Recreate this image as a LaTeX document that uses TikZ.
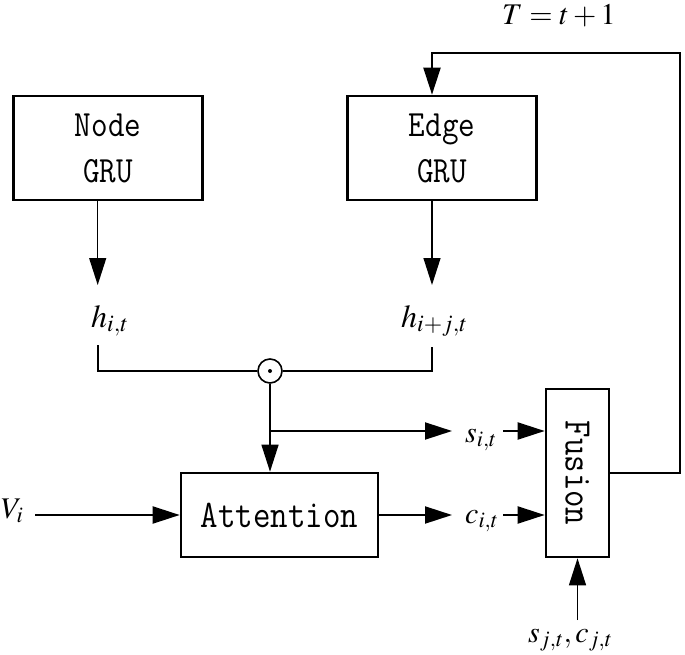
\documentclass[tikz,border=0pt]{standalone}
\usepackage{mathptmx}
\usepackage{graphicx}
\usetikzlibrary{arrows.meta}
\tikzset{
  blk/.style={draw, line width=2.6pt, inner sep=0pt},
  conn/.style={line width=2pt},
  thinconn/.style={line width=1.3pt},
  tip/.style={-{Triangle[length=27pt,width=17pt]}},
  lbl/.style={inner sep=0pt, anchor=base west, font=\fontsize{30}{36}\selectfont},
  hlbl/.style={lbl, font=\fontsize{32}{38}\selectfont},
  gru/.style={blk, minimum width=189pt, minimum height=104pt, align=center,
    font=\fontsize{37}{46}\selectfont\ttfamily},
  monotxt/.style={font=\fontsize{39}{45}\selectfont\ttfamily},
}
\newcommand{\cnd}[1]{\scalebox{0.87}[1]{#1}}
\begin{document}
\begin{tikzpicture}[x=1pt,y=-1pt]
\useasboundingbox (0,0) rectangle (685,655);
% boxes
\node[gru] (nodegru) at (108,148) {\cnd{Node}\\\cnd{GRU}};
\node[gru] (edgegru) at (442,148) {\cnd{Edge}\\\cnd{GRU}};
\node[blk, monotxt, minimum width=197pt, minimum height=84pt] (attn) at (279.5,515) {\cnd{Attention}};
\node[blk, minimum width=63pt, minimum height=168pt] (fusion) at (577.5,473) {};
\node[monotxt, inner sep=0pt, rotate=-90] (fusiontxt) at (fusion.center) {\cnd{Fusion}};
% labels
\node[hlbl] (hit) at (91,327) {$h_{i,t}$};
\node[hlbl] (hijt) at (401,327) {$h_{i+j,t}$};
\node[lbl] (sit) at (465,442) {$s_{i,t}$};
\node[lbl] (cit) at (465,523) {$c_{i,t}$};
\node[lbl] (vi) at (1,518) {$V_i$};
\node[lbl] (sjcj) at (528,642) {$s_{j,t},c_{j,t}$};
\node[lbl] (tt) at (502,25) {$T=t+1$};
% odot
\node[circle, draw, line width=1.6pt, minimum size=24pt, inner sep=0pt] (odot) at (270,371) {};
\fill (odot.center) circle (2pt);
% coordinates
\coordinate (hA) at (97.7,285);
\coordinate (hB) at (432,285);
\coordinate (hl) at (97.7,345);
\coordinate (hr) at (432,347);
\coordinate (br) at (270,431);
\coordinate (sA) at (452,431);
\coordinate (s2) at (503,431);
\coordinate (cA) at (452,515);
\coordinate (c2) at (503,515);
\coordinate (vA) at (35,515);
\coordinate (sj) at (577.5,620);
\coordinate (fbR) at (680,53);
\coordinate (fbL) at (432,53);
% connectors
\draw[thinconn, tip] (nodegru.south -| hA) -- (hA);
\draw[thinconn, tip] (edgegru.south -| hB) -- (hB);
\draw[conn] (hl) |- (odot.west);
\draw[conn] (hr) |- (odot.east);
\draw[thinconn, tip] (odot.south) -- (odot.south |- attn.north);
\draw[conn, tip] (br) -- (sA);
\draw[conn, tip] (s2) -- (s2 -| fusion.west);
\draw[conn, tip] (vA) -- (attn.west);
\draw[conn, tip] (attn.east) -- (cA);
\draw[conn, tip] (c2) -- (c2 -| fusion.west);
\draw[thinconn, tip] (sj) -- (sj |- fusion.south);
\draw[conn, tip] (fusion.east) -- (fbR |- fusion.east) -- (fbR) -- (fbL) -- (fbL |- edgegru.north);
\end{tikzpicture}
\end{document}
